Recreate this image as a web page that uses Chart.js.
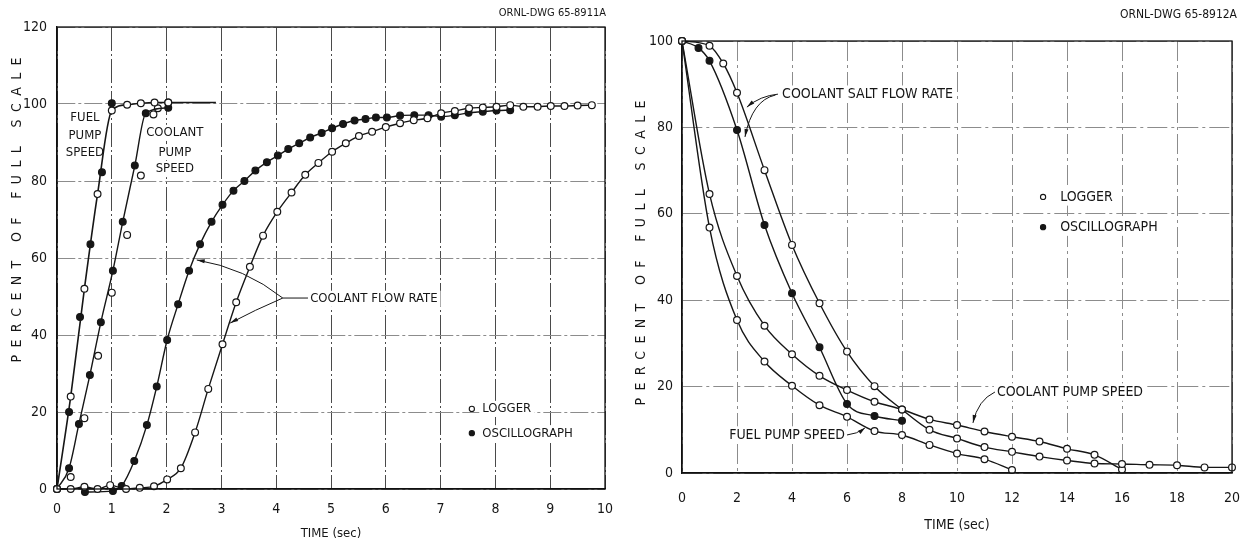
<!DOCTYPE html>
<html><head><meta charset="utf-8">
<script src="https://cdn.jsdelivr.net/npm/chart.js@4/dist/chart.umd.min.js"></script>
<style>
html,body{margin:0;padding:0;background:#fff;}
#wrap{position:relative;width:1247px;height:546px;overflow:hidden;background:#fff;}
#c1{position:absolute;left:0;top:0;}
#c2{position:absolute;left:625px;top:0;}
</style></head><body>
<div id="wrap">
<canvas id="c1" width="620" height="546"></canvas>
<canvas id="c2" width="622" height="546"></canvas>
</div>
<script>
// ---------- LEFT CHART (start-up) : time in sec, percent of full scale ----------
const leftXTicks = [0,1,2,3,4,5,6,7,8,9,10];
const leftYTicks = [0,20,40,60,80,100,120];

const fuelPumpLoggerT = [0,0.25,0.5,0.74,1.0,1.28,1.53,1.78,2.03,2.9];
const fuelPumpLoggerV = [0,24,52,76.6,98.3,99.8,100.2,100.4,100.4,100.4];
const fuelPumpOscT = [0,0.22,0.42,0.61,0.82,1.0];
const fuelPumpOscV = [0,20,44.7,63.6,82.3,100.2];

const coolPumpLoggerT = [0.25,0.5,0.75,1.0,1.28,1.53,1.76,1.84,2.03];
const coolPumpLoggerV = [3.1,18.4,34.6,51,66,81.4,97.3,98.9,100.4];
const coolPumpOscT = [0,0.22,0.4,0.6,0.8,1.02,1.2,1.42,1.62,2.03];
const coolPumpOscV = [0,5.4,16.9,29.6,43.3,56.7,69.4,84,97.6,99];

const coolFlowLoggerT = [0,0.25,0.5,0.74,0.97,1.26,1.51,1.77,2.01,2.26,2.52,2.76,3.02,3.27,3.52,3.76,4.02,4.28,4.53,4.77,5.02,5.27,5.51,5.75,6.0,6.26,6.51,6.76,7.01,7.26,7.52,7.77,8.02,8.27,8.51,8.77,9.01,9.26,9.5,9.76];
const coolFlowLoggerV = [0,0,0.6,0,1,0,0.3,0.7,2.5,5.4,14.7,26,37.6,48.5,57.7,65.8,72,77,81.6,84.7,87.6,89.8,91.7,92.8,94,95,95.8,96.3,97.6,98.2,98.9,99.1,99.3,99.7,99.3,99.3,99.5,99.5,99.6,99.7];
const coolFlowOscT = [0.51,1.02,1.18,1.41,1.64,1.82,2.01,2.21,2.41,2.61,2.82,3.02,3.22,3.42,3.62,3.83,4.03,4.22,4.42,4.62,4.83,5.02,5.22,5.43,5.63,5.82,6.02,6.26,6.52,6.78,7.01,7.26,7.51,7.77,8.02,8.27];
const coolFlowOscV = [-0.8,-0.5,0.8,7.3,16.6,26.6,38.7,48,56.7,63.6,69.4,73.8,77.5,80,82.7,84.9,86.6,88.3,89.8,91.3,92.5,93.7,94.8,95.7,96.1,96.5,96.5,97,97.1,97.1,96.7,97.1,97.7,98,98.3,98.4];

// ---------- RIGHT CHART (coast-down) ----------
const rightXTicks = [0,2,4,6,8,10,12,14,16,18,20];
const rightYTicks = [0,20,40,60,80,100];

const saltFlowLoggerT = [0,1,1.5,2,3,4,5,6,7,8,9,10,11,12,13,14,15,16,17,18,19,20];
const saltFlowLoggerV = [100,98.9,94.8,88,70.1,52.8,39.3,28.1,20.1,14.7,10,8,6,4.9,3.8,2.9,2.2,2.1,1.9,1.8,1.3,1.3];
const saltFlowOscT = [0,0.6,1,2,3,4,5,6,7,8];
const saltFlowOscV = [100,98.4,95.4,79.4,57.4,41.6,29.1,16,13.2,12.1];
const coolPumpSpeedT = [0,1,2,3,4,5,6,7,8,9,10,11,12,13,14,15,16];
const coolPumpSpeedV = [100,64.6,45.6,34.1,27.5,22.5,19.2,16.5,14.7,12.4,11.1,9.6,8.4,7.3,5.6,4.2,0.8];
const fuelPumpSpeedT = [0,1,2,3,4,5,6,7,8,9,10,11,12];
const fuelPumpSpeedV = [100,56.8,35.4,25.8,20.2,15.7,13,9.7,8.8,6.5,4.5,3.2,0.7];

const legendLabels = ['LOGGER','OSCILLOGRAPH'];
const xTitle = 'TIME (sec)';
const yTitle = 'PERCENT OF FULL SCALE';

const FONT = "'DejaVu Sans Condensed','Liberation Sans Narrow','DejaVu Sans',sans-serif";
const INK = '#161616';

function pts(T,V){ return T.map((t,i)=>({x:t,y:V[i]})); }
function ds(T,V,filled,line,extra){
  return Object.assign({
    data: pts(T,V), showLine: line,
    borderColor: INK, borderWidth: 1.4,
    pointRadius: 3.4, pointBorderWidth: 1.2,
    pointBackgroundColor: filled ? INK : '#fff', pointBorderColor: INK,
    cubicInterpolationMode: 'monotone', clip: false
  }, extra || {});
}

function text(ctx, t, x, y, size, align, bg, spacing){
  ctx.save();
  ctx.font = size + 'px ' + FONT;
  ctx.textAlign = align || 'left';
  ctx.textBaseline = 'middle';
  if (spacing) ctx.letterSpacing = spacing + 'px';
  if (bg){
    const w = ctx.measureText(t).width;
    const lx = align==='center' ? x-w/2 : align==='right' ? x-w : x;
    ctx.fillStyle = '#fff';
    ctx.fillRect(lx-3, y-size*0.62, w+6, size*1.24);
  }
  ctx.fillStyle = INK;
  ctx.fillText(t, x, y);
  ctx.restore();
}

function leader(ctx, p0, c, p1, headLen, headW){
  ctx.save();
  ctx.strokeStyle = INK; ctx.fillStyle = INK; ctx.lineWidth = 1;
  ctx.beginPath(); ctx.moveTo(p0[0],p0[1]);
  if (c) ctx.quadraticCurveTo(c[0],c[1],p1[0],p1[1]); else ctx.lineTo(p1[0],p1[1]);
  ctx.stroke();
  if (headLen){
    const from = c || p0;
    const a = Math.atan2(p1[1]-from[1], p1[0]-from[0]);
    const L = headLen, W = headW || 2;
    ctx.beginPath();
    ctx.moveTo(p1[0],p1[1]);
    ctx.lineTo(p1[0]-L*Math.cos(a)+W*Math.sin(a), p1[1]-L*Math.sin(a)-W*Math.cos(a));
    ctx.lineTo(p1[0]-L*Math.cos(a)-W*Math.sin(a), p1[1]-L*Math.sin(a)+W*Math.cos(a));
    ctx.closePath(); ctx.fill();
  }
  ctx.restore();
}

function marker(ctx, x, y, filled, r){
  ctx.save();
  ctx.beginPath(); ctx.arc(x,y,r,0,Math.PI*2);
  ctx.fillStyle = filled ? INK : '#fff'; ctx.fill();
  ctx.lineWidth = 1.1; ctx.strokeStyle = INK; ctx.stroke();
  ctx.restore();
}

function makeAnnot(cfg){
  return {
    id: 'annot',
    beforeDatasetsDraw(chart){
      const ctx = chart.ctx, X = v=>chart.scales.x.getPixelForValue(v), Y = v=>chart.scales.y.getPixelForValue(v);
      cfg.labels.forEach(l=>{
        l.lines.forEach((t,i)=>text(ctx, t, X(l.x), Y(l.y[i]), l.size, l.align, true));
      });
      cfg.leaders.forEach(d=>{
        leader(ctx, [X(d.p0[0]),Y(d.p0[1])], d.c ? [X(d.c[0]),Y(d.c[1])] : null, [X(d.p1[0]),Y(d.p1[1])], d.head, d.hw);
      });
      const lg = cfg.legend;
      legendLabels.forEach((t,i)=>{
        text(ctx, t, X(lg.tx), Y(lg.y[i]), lg.size, 'left', true);
        marker(ctx, X(lg.mx), Y(lg.y[i]), i===1, lg.r);
      });
    },
    afterDraw(chart){
      const ctx = chart.ctx, a = chart.chartArea;
      ctx.save();
      ctx.strokeStyle = '#111'; ctx.lineWidth = 1.3;
      ctx.strokeRect(a.left, a.top, a.right-a.left, a.bottom-a.top);
      ctx.restore();
      text(ctx, cfg.header, a.right + cfg.headerDx, cfg.headerY, cfg.headerSize, 'right', false);
      ctx.save();
      ctx.font = cfg.yTitleSize + 'px ' + FONT;
      const w0 = ctx.measureText(yTitle).width;
      const sp = (cfg.yTitleLen - w0) / (yTitle.length - 1);
      ctx.translate(cfg.yTitleX, cfg.yTitleY);
      ctx.rotate(-Math.PI/2);
      text(ctx, yTitle, -(cfg.yTitleLen)/2, 0, cfg.yTitleSize, 'left', false, sp);
      ctx.restore();
    }
  };
}

function baseOptions(o){
  return {
    responsive: false, animation: false, devicePixelRatio: 1,
    layout: {padding: {top: o.top, right: o.right, left: 0, bottom: 0}},
    plugins: {legend: {display: false}, tooltip: {enabled: false}},
    scales: {
      x: {
        type: 'linear', min: o.xTicks[0], max: o.xTicks[o.xTicks.length-1],
        afterBuildTicks: s => { s.ticks = o.xTicks.map(v=>({value:v})); },
        ticks: {padding: o.xPad, color: INK, font: {size: 14, family: FONT}, maxRotation: 0, autoSkip: false},
        grid: {color: o.xGridColor, lineWidth: 1, drawTicks: false},
        border: {display: true, color: '#111', width: 1.3, dash: o.xDash},
        title: {display: true, text: xTitle, color: INK, font: {size: o.xTitleSize, family: FONT}, padding: {top: 0, bottom: o.xTitlePad}},
        afterFit: s => { s.height = o.xHeight; s.paddingLeft = 0; s.paddingRight = 0; }
      },
      y: {
        type: 'linear', min: o.yTicks[0], max: o.yTicks[o.yTicks.length-1],
        afterBuildTicks: s => { s.ticks = o.yTicks.map(v=>({value:v})); },
        ticks: {padding: o.yPad, color: INK, font: {size: 14, family: FONT}},
        grid: {color: o.yGridColor, lineWidth: 1, drawTicks: false},
        border: {display: true, color: '#111', width: 1.3, dash: o.yDash},
        afterFit: s => { s.width = 57; s.paddingTop = 0; s.paddingBottom = 0; }
      }
    }
  };
}

// ---------- build left chart ----------
const fuelRadius = fuelPumpLoggerT.map((t,i)=> i===fuelPumpLoggerT.length-1 ? 0 : 3.4);
new Chart(document.getElementById('c1'), {
  type: 'scatter',
  data: {datasets: [
    ds(coolFlowLoggerT, coolFlowLoggerV, false, true),
    ds(coolFlowOscT, coolFlowOscV, true, true),
    ds(fuelPumpLoggerT, fuelPumpLoggerV, false, true, {pointRadius: fuelRadius, borderWidth: 1.6}),
    ds(fuelPumpOscT, fuelPumpOscV, true, false),
    ds(coolPumpOscT, coolPumpOscV, true, true),
    ds(coolPumpLoggerT, coolPumpLoggerV, false, false)
  ]},
  options: baseOptions({top: 27, right: 15, xTicks: leftXTicks, yTicks: leftYTicks, xPad: 12, yPad: 10,
    xGridColor: '#4a4a4a', yGridColor: '#8c8c8c', xDash: [24,3,2,3], yDash: [18,3,3,3],
    xTitleSize: 13, xTitlePad: 4.5, xHeight: 57}),
  plugins: [makeAnnot({
    labels: [
      {lines: ['FUEL','PUMP','SPEED'], x: 0.51, y: [96.4,91.7,87.3], size: 13, align: 'center'},
      {lines: ['COOLANT','PUMP','SPEED'], x: 2.15, y: [92.5,87.5,83.1], size: 13, align: 'center'},
      {lines: ['COOLANT FLOW RATE'], x: 4.62, y: [49.4], size: 13, align: 'left'}
    ],
    leaders: [
      {p0: [4.58,49.6], p1: [4.12,49.6]},
      {p0: [4.12,49.6], c: [3.43,57.4], p1: [2.55,59.5], head: 8, hw: 2},
      {p0: [4.12,49.6], c: [3.61,46.5], p1: [3.16,43.1], head: 8, hw: 2}
    ],
    legend: {mx: 7.57, tx: 7.76, y: [20.8,14.5], size: 13, r: 2.6},
    header: 'ORNL-DWG 65-8911A', headerDx: 1, headerY: 13, headerSize: 11,
    yTitleX: 17, yTitleY: 210, yTitleLen: 305, yTitleSize: 14
  })]
});

// ---------- build right chart ----------
new Chart(document.getElementById('c2'), {
  type: 'scatter',
  data: {datasets: [
    ds(saltFlowLoggerT, saltFlowLoggerV, false, true),
    ds(saltFlowOscT, saltFlowOscV, true, true),
    ds(coolPumpSpeedT, coolPumpSpeedV, false, true),
    ds(fuelPumpSpeedT, fuelPumpSpeedV, false, true)
  ]},
  options: baseOptions({top: 41, right: 15, xTicks: rightXTicks, yTicks: rightYTicks, xPad: 17, yPad: 9,
    xGridColor: '#8c8c8c', yGridColor: '#8c8c8c', xDash: [20,4,3,4], yDash: [20,4,3,4],
    xTitleSize: 14, xTitlePad: 12.5, xHeight: 73}),
  plugins: [makeAnnot({
    labels: [
      {lines: ['COOLANT SALT FLOW RATE'], x: 3.64, y: [87.7], size: 14, align: 'left'},
      {lines: ['COOLANT PUMP SPEED'], x: 11.45, y: [18.75], size: 14, align: 'left'},
      {lines: ['FUEL PUMP SPEED'], x: 5.93, y: [8.8], size: 14, align: 'right'}
    ],
    leaders: [
      {p0: [3.49,87.7], c: [2.84,87.3], p1: [2.36,84.7], head: 8, hw: 2},
      {p0: [3.40,87.5], c: [2.55,86.3], p1: [2.29,77.8], head: 8, hw: 2},
      {p0: [11.38,18.75], c: [10.76,16.9], p1: [10.58,11.6], head: 8, hw: 2},
      {p0: [6.0,8.8], c: [6.36,9.0], p1: [6.65,10.4], head: 7, hw: 2}
    ],
    legend: {mx: 13.13, tx: 13.75, y: [63.9,56.9], size: 14, r: 2.6},
    header: 'ORNL-DWG 65-8912A', headerDx: 5, headerY: 15, headerSize: 12,
    yTitleX: 16, yTitleY: 253, yTitleLen: 305, yTitleSize: 14
  })]
});
</script>
</body></html>
